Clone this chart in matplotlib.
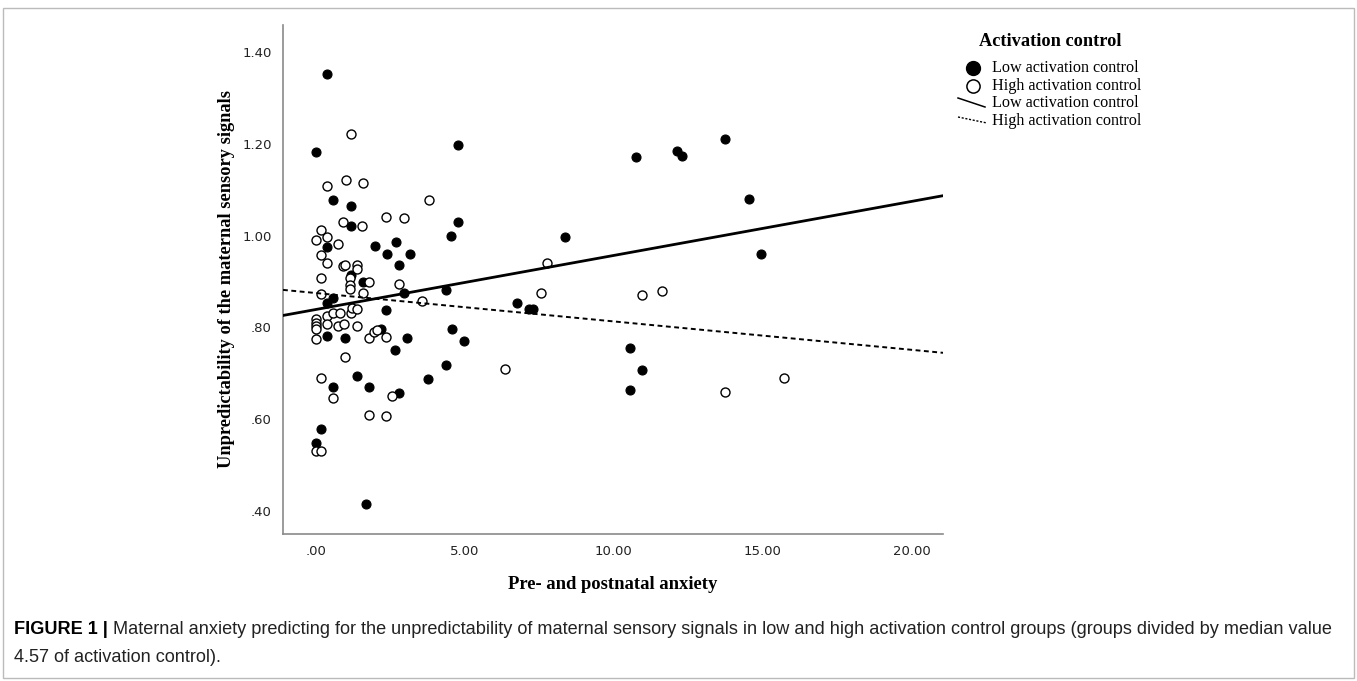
import numpy as np
import matplotlib
matplotlib.use("Agg")
import matplotlib.pyplot as plt
from matplotlib.lines import Line2D
from matplotlib.patches import Rectangle

# low activation control (filled)
low_x = [0.38, 0.02, 4.77, 0.58, 1.18, 1.18, 4.77, 4.55, 0.38, 1.99, 2.69, 2.38, 3.17,
         2.80, 1.18, 1.57, 2.97, 4.37, 0.38, 0.58, 2.37, 0.38, 0.99, 2.18, 3.06, 4.56,
         4.97, 2.67, 4.37, 1.40, 3.77, 0.58, 1.77, 2.78, 0.17, 0.00, 1.68, 6.76, 7.17,
         7.30, 8.35, 10.74, 12.12, 12.29, 13.73, 14.53, 14.93, 10.54, 10.94, 10.56]
low_y = [1.353, 1.183, 1.198, 1.077, 1.064, 1.022, 1.030, 1.000, 0.976, 0.978, 0.987,
         0.960, 0.960, 0.937, 0.915, 0.900, 0.875, 0.882, 0.853, 0.864, 0.838, 0.781,
         0.776, 0.796, 0.776, 0.796, 0.771, 0.751, 0.717, 0.694, 0.688, 0.669, 0.669,
         0.657, 0.578, 0.548, 0.415, 0.853, 0.840, 0.841, 0.997, 1.172, 1.186, 1.173,
         1.212, 1.081, 0.961, 0.755, 0.706, 0.664]

# high activation control (open)
high_x = [1.18, 0.38, 1.02, 1.58, 3.81, 0.93, 1.55, 2.36, 2.97, 0.17, 0.00, 0.38, 0.76,
          0.17, 0.38, 0.93, 0.99, 1.38, 1.38, 0.17, 1.16, 1.16, 1.77, 2.78, 1.16, 0.17,
          1.58, 3.56, 7.55, 7.75, 0.00, 0.00, 0.00, 0.00, 0.00, 0.38, 0.38, 0.58, 0.80,
          0.76, 0.96, 1.18, 1.21, 1.38, 1.38, 1.77, 1.97, 2.05, 2.36, 0.99, 0.17, 0.58,
          2.55, 1.77, 2.36, 0.00, 0.17, 6.35, 10.94, 11.63, 13.73, 15.71]
high_y = [1.221, 1.109, 1.121, 1.116, 1.078, 1.029, 1.022, 1.042, 1.039, 1.013, 0.991,
          0.998, 0.982, 0.958, 0.940, 0.934, 0.936, 0.936, 0.927, 0.907, 0.907, 0.893,
          0.900, 0.895, 0.883, 0.873, 0.875, 0.858, 0.874, 0.941, 0.818, 0.810, 0.802,
          0.796, 0.774, 0.825, 0.808, 0.832, 0.832, 0.803, 0.808, 0.831, 0.842, 0.840,
          0.802, 0.776, 0.789, 0.795, 0.780, 0.736, 0.689, 0.645, 0.651, 0.609, 0.607,
          0.530, 0.530, 0.709, 0.870, 0.880, 0.659, 0.690]

# fit lines (intercept, slope)
low_fit = (0.839, 0.0118)
high_fit = (0.875, -0.0062)

x_ticks = [0, 5, 10, 15, 20]
x_labels = ['.00', '5.00', '10.00', '15.00', '20.00']
y_ticks = [0.4, 0.6, 0.8, 1.0, 1.2, 1.4]
y_labels = ['.40', '.60', '.80', '1.00', '1.20', '1.40']

W, H = 1357, 681
fig = plt.figure(figsize=(W / 100, H / 100), dpi=100)


def fx(px):
    return px / W


def fy(py):
    return 1 - py / H


ax = fig.add_axes([fx(283), fy(534), fx(943) - fx(283), fy(25) - fy(534)])
ax.set_xlim(-1.1, 21.05)
ax.set_ylim(0.349, 1.46)

ax.scatter(low_x, low_y, s=42, c='black', edgecolors='black', linewidths=0.8, zorder=3)
ax.scatter(high_x, high_y, s=42, facecolors='white', edgecolors='black', linewidths=1.0, zorder=3)

xs = np.array(ax.get_xlim())
ax.plot(xs, low_fit[0] + low_fit[1] * xs, color='black', lw=2.0, zorder=4)
ax.plot(xs, high_fit[0] + high_fit[1] * xs, color='black', lw=1.4, ls=(0, (2.5, 1.8)), zorder=4)

for s in ['top', 'right']:
    ax.spines[s].set_visible(False)
for s in ['left', 'bottom']:
    ax.spines[s].set_color('#8a8a8a')
    ax.spines[s].set_linewidth(1.2)

ax.set_xticks(x_ticks)
ax.set_xticklabels(x_labels)
ax.set_yticks(y_ticks)
ax.set_yticklabels(y_labels)
ax.tick_params(length=0, pad=8, labelsize=9.5, labelcolor='#222222')

serif = 'Liberation Serif'
ax.set_xlabel('Pre- and postnatal anxiety', fontfamily=serif, fontweight='bold', fontsize=13.4, labelpad=13)
ax.set_ylabel('Unpredictability of the maternal sensory signals', fontfamily=serif,
              fontweight='bold', fontsize=13.2, labelpad=5)

# legend drawn by hand
fig.text(fx(979), fy(42), 'Activation control', fontfamily=serif, fontweight='bold',
         fontsize=13.2, ha='left', va='center')
fig.add_artist(Line2D([fx(973)], [fy(68)], marker='o', ms=10, color='black', transform=fig.transFigure))
fig.add_artist(Line2D([fx(973)], [fy(86)], marker='o', ms=9.5, mfc='white', mec='black', mew=1.1,
                      transform=fig.transFigure))
fig.add_artist(Line2D([fx(958), fx(985)], [fy(98), fy(107)], color='black', lw=1.1,
                      transform=fig.transFigure))
fig.add_artist(Line2D([fx(958), fx(987)], [fy(117), fy(123)], color='black', lw=1.0,
                      ls=(0, (1.5, 1.2)), transform=fig.transFigure))
items = ['Low activation control', 'High activation control', 'Low activation control', 'High activation control']
for lab, py in zip(items, [68, 86, 103, 121]):
    fig.text(fx(992), fy(py), lab, fontfamily=serif, fontsize=11.6, ha='left', va='center')

# caption
sans = 'Liberation Sans'
b = fig.text(fx(14), fy(630), 'FIGURE 1 |', fontfamily=sans, fontweight='bold', fontsize=13.1,
             ha='left', va='center')
ax.annotate(' Maternal anxiety predicting for the unpredictability of maternal sensory signals in low and high '
            'activation control groups (groups divided by median value',
            xy=(1, 0.5), xycoords=b, va='center', ha='left', fontfamily=sans, fontsize=13.1,
            color='#222222', annotation_clip=False)
fig.text(fx(14), fy(657), '4.57 of activation control).', fontfamily=sans, fontsize=13.1,
         ha='left', va='center', color='#222222')

fig.add_artist(Rectangle((fx(3), fy(678)), fx(1351), fy(8) - fy(678), fill=False,
                         edgecolor='#bbbbbb', lw=1.0, transform=fig.transFigure))

fig.savefig('out.png', dpi=100)
